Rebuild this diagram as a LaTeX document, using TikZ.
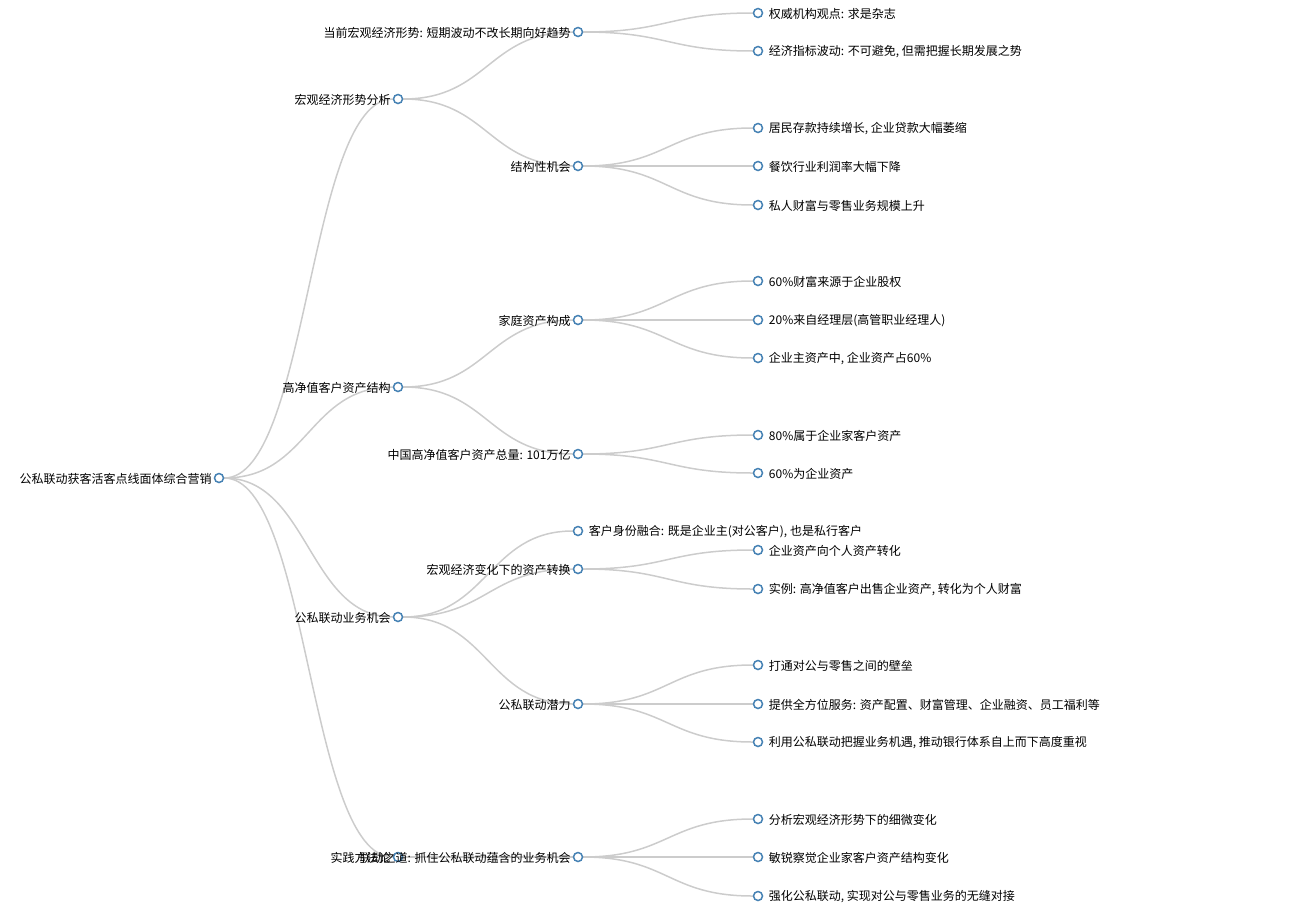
\documentclass[tikz,border=0pt]{standalone}
\usepackage{fontspec}
\setmainfont{Noto Sans CJK SC}
\definecolor{nodeblue}{HTML}{4682B4}
\definecolor{linkgray}{HTML}{CCCCCC}
\pgfdeclarelayer{background}
\pgfsetlayers{background,main}
\begin{document}
\begin{tikzpicture}[x=1pt, y=-1pt,
    dot/.style={circle, draw=nodeblue, fill=white, line width=1.5pt, minimum size=9pt, inner sep=0pt},
    txt/.style={inner sep=0pt, font=\fontsize{12}{14}\selectfont, text=black, yshift=-0.8pt},
    tl/.style={label={[txt, label distance=2pt]left:#1}},
    tr/.style={label={[txt, label distance=5.5pt]right:#1}},
    link/.style={draw=linkgray, line width=1.5pt}]
      \useasboundingbox (0,0) rectangle (1297,913);

      \node[dot, tl={公私联动获客活客点线面体综合营销}] (root) at (219,478) {};

      \node[dot, tl={宏观经济形势分析}] (macro) at (398,99) {};
      \node[dot, tl={高净值客户资产结构}] (hnw) at (398,387) {};
      \node[dot, tl={公私联动业务机会}] (biz) at (398,617) {};
      \node[dot, tl={实践方法论}] (prac) at (398,857) {};

      \node[dot, tl={当前宏观经济形势: 短期波动不改长期向好趋势}] (trend) at (578,32) {};
      \node[dot, tl={结构性机会}] (chance) at (578,166) {};
      \node[dot, tl={家庭资产构成}] (family) at (578,320) {};
      \node[dot, tl={中国高净值客户资产总量: 101万亿}] (total) at (578,454) {};
      \node[dot, tr={客户身份融合: 既是企业主(对公客户), 也是私行客户}] (ident) at (578,531) {};
      \node[dot, tl={宏观经济变化下的资产转换}] (shift) at (578,569) {};
      \node[dot, tl={公私联动潜力}] (potent) at (578,704) {};
      \node[dot, tl={联动之道: 抓住公私联动蕴含的业务机会}] (way) at (578,857) {};

      \node[dot, tr={权威机构观点: 求是杂志}] (t1) at (758,13) {};
      \node[dot, tr={经济指标波动: 不可避免, 但需把握长期发展之势}] (t2) at (758,51) {};
      \node[dot, tr={居民存款持续增长, 企业贷款大幅萎缩}] (c1) at (758,128) {};
      \node[dot, tr={餐饮行业利润率大幅下降}] (c2) at (758,166) {};
      \node[dot, tr={私人财富与零售业务规模上升}] (c3) at (758,205) {};
      \node[dot, tr={60\%财富来源于企业股权}] (f1) at (758,281) {};
      \node[dot, tr={20\%来自经理层(高管职业经理人)}] (f2) at (758,320) {};
      \node[dot, tr={企业主资产中, 企业资产占60\%}] (f3) at (758,358) {};
      \node[dot, tr={80\%属于企业家客户资产}] (s1) at (758,435) {};
      \node[dot, tr={60\%为企业资产}] (s2) at (758,473) {};
      \node[dot, tr={企业资产向个人资产转化}] (a1) at (758,550) {};
      \node[dot, tr={实例: 高净值客户出售企业资产, 转化为个人财富}] (a2) at (758,589) {};
      \node[dot, tr={打通对公与零售之间的壁垒}] (p1) at (758,665) {};
      \node[dot, tr={提供全方位服务: 资产配置、财富管理、企业融资、员工福利等}] (p2) at (758,704) {};
      \node[dot, tr={利用公私联动把握业务机遇, 推动银行体系自上而下高度重视}] (p3) at (758,742) {};
      \node[dot, tr={分析宏观经济形势下的细微变化}] (w1) at (758,819) {};
      \node[dot, tr={敏锐察觉企业家客户资产结构变化}] (w2) at (758,857) {};
      \node[dot, tr={强化公私联动, 实现对公与零售业务的无缝对接}] (w3) at (758,896) {};

      \begin{pgfonlayer}{background}
      % root to first level
      \draw[link] (root) .. controls ([xshift=90pt]root.center) and ([xshift=-90pt]macro.center) .. (macro);
      \draw[link] (root) .. controls ([xshift=90pt]root.center) and ([xshift=-90pt]hnw.center) .. (hnw);
      \draw[link] (root) .. controls ([xshift=90pt]root.center) and ([xshift=-90pt]biz.center) .. (biz);
      \draw[link] (root) .. controls ([xshift=90pt]root.center) and ([xshift=-90pt]prac.center) .. (prac);

      % first level to second level
      \draw[link] (macro) .. controls ([xshift=90pt]macro.center) and ([xshift=-90pt]trend.center) .. (trend);
      \draw[link] (macro) .. controls ([xshift=90pt]macro.center) and ([xshift=-90pt]chance.center) .. (chance);
      \draw[link] (hnw) .. controls ([xshift=90pt]hnw.center) and ([xshift=-90pt]family.center) .. (family);
      \draw[link] (hnw) .. controls ([xshift=90pt]hnw.center) and ([xshift=-90pt]total.center) .. (total);
      \draw[link] (biz) .. controls ([xshift=90pt]biz.center) and ([xshift=-90pt]ident.center) .. (ident);
      \draw[link] (biz) .. controls ([xshift=90pt]biz.center) and ([xshift=-90pt]shift.center) .. (shift);
      \draw[link] (biz) .. controls ([xshift=90pt]biz.center) and ([xshift=-90pt]potent.center) .. (potent);
      \draw[link] (prac) .. controls ([xshift=90pt]prac.center) and ([xshift=-90pt]way.center) .. (way);

      % second level to leaves
      \draw[link] (trend) .. controls ([xshift=90pt]trend.center) and ([xshift=-90pt]t1.center) .. (t1);
      \draw[link] (trend) .. controls ([xshift=90pt]trend.center) and ([xshift=-90pt]t2.center) .. (t2);
      \draw[link] (chance) .. controls ([xshift=90pt]chance.center) and ([xshift=-90pt]c1.center) .. (c1);
      \draw[link] (chance) -- (c2);
      \draw[link] (chance) .. controls ([xshift=90pt]chance.center) and ([xshift=-90pt]c3.center) .. (c3);
      \draw[link] (family) .. controls ([xshift=90pt]family.center) and ([xshift=-90pt]f1.center) .. (f1);
      \draw[link] (family) -- (f2);
      \draw[link] (family) .. controls ([xshift=90pt]family.center) and ([xshift=-90pt]f3.center) .. (f3);
      \draw[link] (total) .. controls ([xshift=90pt]total.center) and ([xshift=-90pt]s1.center) .. (s1);
      \draw[link] (total) .. controls ([xshift=90pt]total.center) and ([xshift=-90pt]s2.center) .. (s2);
      \draw[link] (shift) .. controls ([xshift=90pt]shift.center) and ([xshift=-90pt]a1.center) .. (a1);
      \draw[link] (shift) .. controls ([xshift=90pt]shift.center) and ([xshift=-90pt]a2.center) .. (a2);
      \draw[link] (potent) .. controls ([xshift=90pt]potent.center) and ([xshift=-90pt]p1.center) .. (p1);
      \draw[link] (potent) -- (p2);
      \draw[link] (potent) .. controls ([xshift=90pt]potent.center) and ([xshift=-90pt]p3.center) .. (p3);
      \draw[link] (way) .. controls ([xshift=90pt]way.center) and ([xshift=-90pt]w1.center) .. (w1);
      \draw[link] (way) -- (w2);
      \draw[link] (way) .. controls ([xshift=90pt]way.center) and ([xshift=-90pt]w3.center) .. (w3);
      \end{pgfonlayer}
    \end{tikzpicture}
\end{document}
